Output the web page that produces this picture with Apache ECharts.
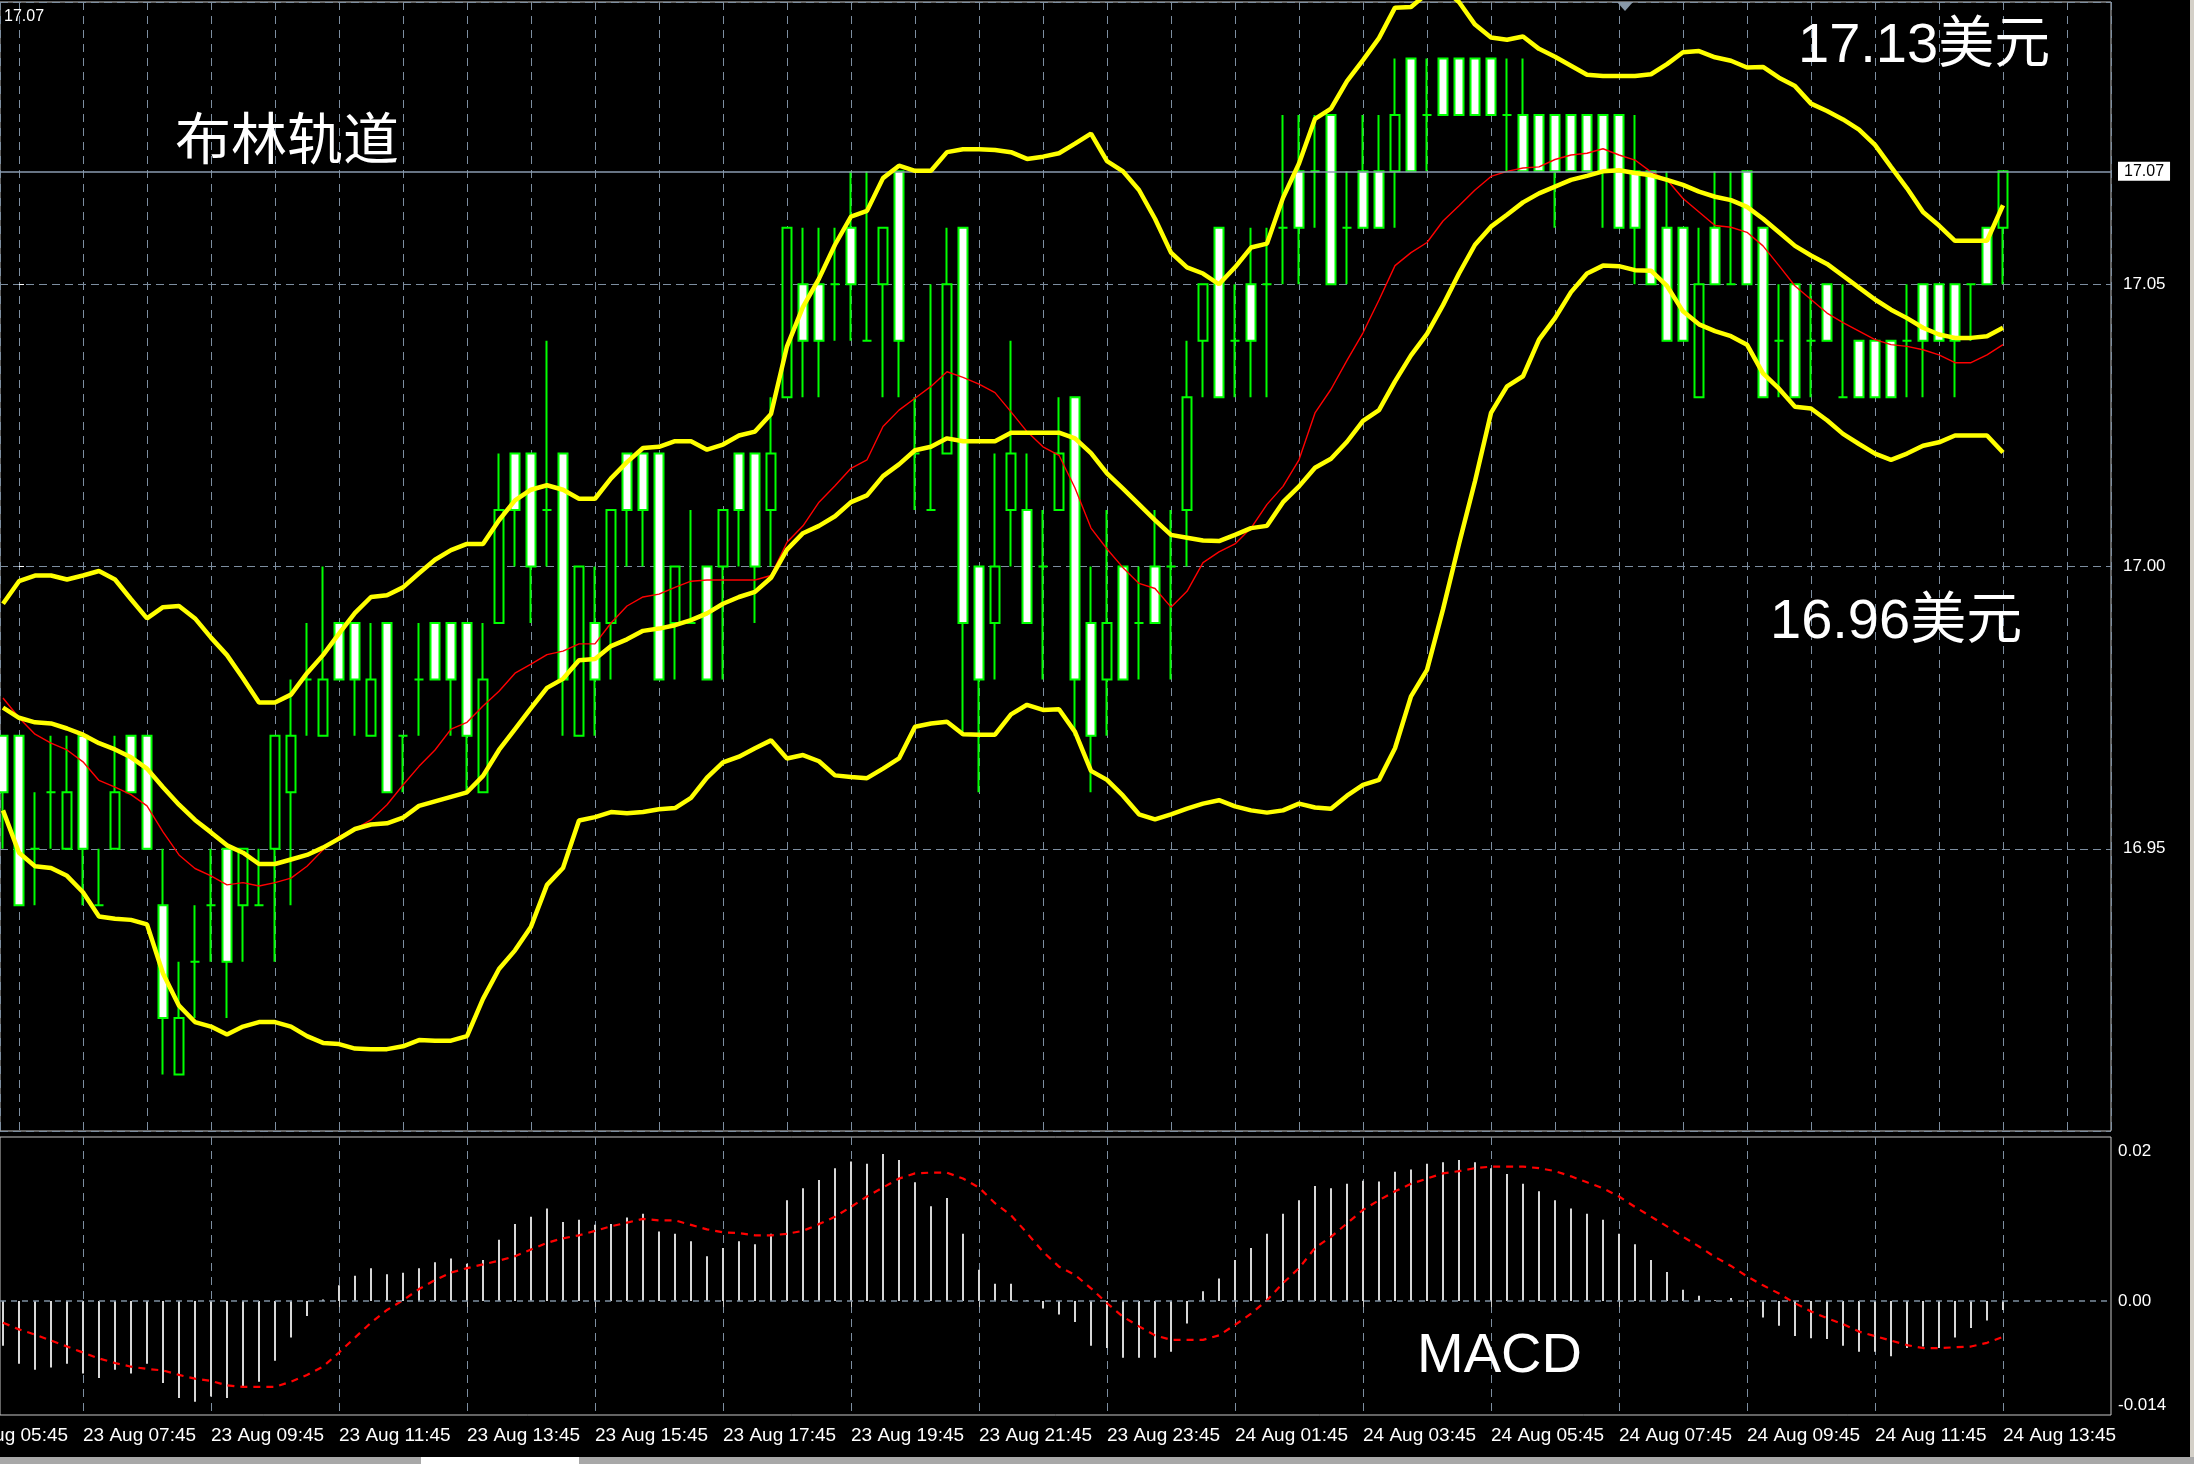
<!DOCTYPE html>
<html><head><meta charset="utf-8">
<script src="https://cdn.jsdelivr.net/npm/echarts/dist/echarts.min.js"></script>
<style>html,body{margin:0;padding:0;background:#000;overflow:hidden}#chart{width:2194px;height:1464px}</style>
</head><body><div id="chart"></div>
<script>
// 15-minute bars, 23 Aug 06:30 ... 24 Aug 13:45
const opens = [16.97,16.97,16.95,16.96,16.95,16.97,16.94,16.95,16.97,16.97,
16.94,16.91,16.93,16.94,16.95,16.94,16.94,16.95,16.96,16.98,
16.97,16.99,16.99,16.97,16.99,16.97,16.98,16.99,16.99,16.99,
16.96,16.99,17.02,17.02,17.01,17.02,16.97,16.99,16.99,17.02,
17.02,17.02,16.99,16.99,17.00,17.00,17.02,17.02,17.01,17.03,
17.05,17.05,17.05,17.06,17.04,17.05,17.07,17.02,17.01,17.02,
17.06,17.00,16.99,17.01,17.01,17.00,17.01,17.03,16.99,16.98,
17.00,16.99,17.00,17.00,17.01,17.04,17.06,17.04,17.05,17.05,
17.06,17.07,17.07,17.08,17.06,17.07,17.07,17.07,17.09,17.08,
17.09,17.09,17.09,17.09,17.08,17.08,17.08,17.08,17.08,17.08,
17.08,17.08,17.07,17.07,17.06,17.06,17.03,17.06,17.05,17.07,
17.06,17.04,17.05,17.04,17.05,17.03,17.04,17.04,17.04,17.04,
17.05,17.05,17.05,17.05,17.06,17.06];
const closes = [16.96,16.94,16.95,16.96,16.96,16.95,16.94,16.96,16.96,16.95,
16.92,16.92,16.93,16.94,16.93,16.95,16.94,16.97,16.97,16.98,
16.98,16.98,16.98,16.98,16.96,16.97,16.98,16.98,16.98,16.97,
16.98,17.01,17.01,17.00,17.01,16.98,17.00,16.98,17.01,17.01,
17.01,16.98,17.00,16.99,16.98,17.01,17.01,17.00,17.02,17.06,
17.04,17.04,17.05,17.05,17.04,17.06,17.04,17.02,17.01,17.05,
16.99,16.98,17.00,17.02,16.99,17.00,17.02,16.98,16.97,16.99,
16.98,16.99,16.99,17.00,17.03,17.05,17.03,17.04,17.04,17.05,
17.06,17.06,17.07,17.05,17.06,17.06,17.06,17.08,17.07,17.08,
17.08,17.08,17.08,17.08,17.08,17.07,17.07,17.07,17.07,17.07,
17.07,17.06,17.06,17.05,17.04,17.04,17.05,17.05,17.05,17.05,
17.03,17.04,17.03,17.04,17.04,17.03,17.03,17.03,17.03,17.04,
17.04,17.04,17.04,17.05,17.05,17.07];
const lows = [16.95,16.94,16.94,16.95,16.95,16.94,16.94,16.95,16.96,16.95,
16.91,16.91,16.92,16.93,16.92,16.93,16.94,16.93,16.94,16.97,
16.97,16.98,16.97,16.97,16.96,16.96,16.97,16.98,16.97,16.96,
16.96,16.99,17.00,16.99,17.00,16.97,16.97,16.97,16.98,17.00,
17.00,16.98,16.98,16.99,16.98,16.98,17.00,16.99,17.00,17.03,
17.03,17.03,17.04,17.04,17.04,17.03,17.03,17.01,17.01,17.02,
16.97,16.96,16.98,17.00,16.99,16.98,17.01,16.97,16.96,16.97,
16.98,16.98,16.99,16.98,17.00,17.03,17.03,17.03,17.03,17.03,
17.05,17.05,17.06,17.05,17.05,17.06,17.06,17.06,17.07,17.07,
17.08,17.08,17.08,17.08,17.07,17.07,17.07,17.06,17.07,17.07,
17.06,17.06,17.05,17.05,17.04,17.04,17.03,17.05,17.05,17.05,
17.03,17.03,17.03,17.03,17.04,17.03,17.03,17.03,17.03,17.03,
17.03,17.04,17.03,17.04,17.05,17.05];
const highs = [16.97,16.97,16.96,16.97,16.97,16.97,16.95,16.97,16.97,16.97,
16.95,16.93,16.94,16.95,16.95,16.95,16.95,16.97,16.98,16.99,
17.00,16.99,16.99,16.99,16.99,16.97,16.99,16.99,16.99,16.99,
16.99,17.02,17.02,17.02,17.04,17.02,17.00,17.00,17.01,17.02,
17.02,17.02,17.00,17.01,17.00,17.01,17.02,17.02,17.03,17.06,
17.06,17.06,17.06,17.07,17.07,17.06,17.07,17.03,17.05,17.06,
17.06,17.00,17.02,17.04,17.02,17.01,17.03,17.03,17.00,17.01,
17.00,17.00,17.01,17.01,17.04,17.05,17.06,17.05,17.06,17.06,
17.08,17.08,17.08,17.08,17.07,17.08,17.08,17.09,17.09,17.09,
17.09,17.09,17.09,17.09,17.09,17.09,17.08,17.08,17.08,17.08,
17.08,17.08,17.08,17.07,17.07,17.06,17.06,17.07,17.07,17.07,
17.06,17.05,17.05,17.05,17.05,17.05,17.04,17.04,17.04,17.05,
17.05,17.05,17.05,17.05,17.06,17.07];

const bbUpper = [16.9934,16.9974,16.9984,16.9984,16.9977,16.9984,16.9992,16.9977,16.9942,16.9908,
16.9928,16.9930,16.9908,16.9874,16.9843,16.9802,16.9759,16.9759,16.9773,16.9811,
16.9843,16.9881,16.9918,16.9946,16.9949,16.9963,16.9988,17.0012,17.0029,17.0040,
17.0040,17.0082,17.0117,17.0136,17.0144,17.0136,17.0120,17.0120,17.0156,17.0185,
17.0210,17.0212,17.0222,17.0222,17.0207,17.0216,17.0232,17.0239,17.0270,17.0390,
17.0460,17.0510,17.0570,17.0620,17.0630,17.0688,17.0710,17.0701,17.0701,17.0734,
17.0739,17.0739,17.0738,17.0734,17.0722,17.0726,17.0732,17.0749,17.0767,17.0718,
17.0700,17.0667,17.0616,17.0556,17.0530,17.0519,17.0500,17.0530,17.0565,17.0572,
17.0653,17.0714,17.0793,17.0811,17.0860,17.0897,17.0936,17.0990,17.0991,17.1015,
17.1025,17.1000,17.0960,17.0937,17.0933,17.0939,17.0917,17.0903,17.0887,17.0871,
17.0869,17.0869,17.0869,17.0872,17.0890,17.0911,17.0913,17.0902,17.0896,17.0884,
17.0885,17.0866,17.0851,17.0820,17.0807,17.0792,17.0774,17.0747,17.0708,17.0670,
17.0628,17.0604,17.0577,17.0577,17.0577,17.0640];
const bbMiddle = [16.9750,16.9732,16.9724,16.9722,16.9713,16.9702,16.9687,16.9676,16.9662,16.9642,
16.9609,16.9578,16.9551,16.9529,16.9506,16.9493,16.9473,16.9473,16.9481,16.9489,
16.9502,16.9518,16.9535,16.9543,16.9545,16.9555,16.9576,16.9584,16.9592,16.9600,
16.9629,16.9675,16.9712,16.9749,16.9785,16.9801,16.9834,16.9836,16.9859,16.9871,
16.9886,16.9890,16.9896,16.9905,16.9917,16.9934,16.9946,16.9955,16.9980,17.0030,
17.0059,17.0072,17.0089,17.0114,17.0126,17.0160,17.0181,17.0206,17.0212,17.0227,
17.0222,17.0222,17.0222,17.0237,17.0237,17.0237,17.0237,17.0227,17.0201,17.0165,
17.0138,17.0110,17.0082,17.0056,17.0051,17.0046,17.0045,17.0056,17.0068,17.0072,
17.0114,17.0142,17.0175,17.0191,17.0221,17.0258,17.0277,17.0328,17.0374,17.0412,
17.0463,17.0519,17.0570,17.0602,17.0623,17.0645,17.0661,17.0673,17.0685,17.0692,
17.0700,17.0702,17.0697,17.0693,17.0685,17.0676,17.0664,17.0655,17.0649,17.0637,
17.0616,17.0592,17.0568,17.0551,17.0536,17.0515,17.0494,17.0473,17.0455,17.0440,
17.0423,17.0411,17.0405,17.0405,17.0408,17.0423];
const bbLower = [16.9568,16.9493,16.9469,16.9466,16.9452,16.9423,16.9380,16.9376,16.9374,16.9366,
16.9279,16.9222,16.9193,16.9185,16.9171,16.9185,16.9193,16.9193,16.9185,16.9168,
16.9156,16.9154,16.9146,16.9145,16.9145,16.9150,16.9161,16.9160,16.9160,16.9168,
16.9234,16.9287,16.9320,16.9362,16.9436,16.9466,16.9550,16.9556,16.9565,16.9563,
16.9565,16.9570,16.9572,16.9590,16.9626,16.9653,16.9663,16.9678,16.9692,16.9660,
16.9666,16.9655,16.9630,16.9627,16.9625,16.9642,16.9660,16.9716,16.9722,16.9725,
16.9703,16.9702,16.9702,16.9738,16.9755,16.9746,16.9747,16.9707,16.9638,16.9622,
16.9594,16.9561,16.9552,16.9561,16.9571,16.9580,16.9586,16.9575,16.9568,16.9564,
16.9568,16.9580,16.9573,16.9571,16.9594,16.9613,16.9622,16.9678,16.9770,16.9817,
16.9924,17.0040,17.0151,17.0272,17.0319,17.0337,17.0402,17.0440,17.0486,17.0519,
17.0533,17.0532,17.0525,17.0524,17.0497,17.0452,17.0429,17.0417,17.0408,17.0393,
17.0342,17.0315,17.0283,17.0280,17.0259,17.0235,17.0217,17.0200,17.0189,17.0200,
17.0214,17.0220,17.0232,17.0232,17.0232,17.0202];
const maRed = [16.9767,16.9732,16.9703,16.9687,16.9675,16.9654,16.9621,16.9609,16.9596,16.9576,
16.9530,16.9489,16.9465,16.9452,16.9436,16.9440,16.9434,16.9440,16.9448,16.9469,
16.9498,16.9522,16.9535,16.9551,16.9578,16.9613,16.9646,16.9675,16.9712,16.9724,
16.9753,16.9779,16.9811,16.9827,16.9844,16.9850,16.9863,16.9863,16.9900,16.9930,
16.9946,16.9951,16.9963,16.9974,16.9976,16.9976,16.9976,16.9976,16.9984,17.0043,
17.0072,17.0114,17.0143,17.0174,17.0189,17.0248,17.0277,17.0298,17.0319,17.0345,
17.0335,17.0323,17.0308,17.0274,17.0239,17.0212,17.0197,17.0139,17.0068,17.0031,
16.9998,16.9970,16.9961,16.9928,16.9956,17.0007,17.0026,17.0040,17.0068,17.0110,
17.0142,17.0189,17.0272,17.0314,17.0365,17.0414,17.0472,17.0533,17.0556,17.0574,
17.0612,17.0639,17.0667,17.0691,17.0700,17.0706,17.0708,17.0721,17.0729,17.0732,
17.0740,17.0729,17.0720,17.0699,17.0685,17.0652,17.0628,17.0604,17.0601,17.0592,
17.0568,17.0533,17.0497,17.0473,17.0449,17.0432,17.0417,17.0402,17.0393,17.0390,
17.0384,17.0375,17.0361,17.0361,17.0375,17.0393];
const macdHist = [-0.0060,-0.0084,-0.0092,-0.0089,-0.0084,-0.0097,-0.0103,-0.0092,-0.0097,-0.0084,
-0.0110,-0.0130,-0.0135,-0.0128,-0.0130,-0.0115,-0.0108,-0.0080,-0.0049,-0.0020,
0.0002,0.0021,0.0034,0.0044,0.0036,0.0038,0.0044,0.0052,0.0057,0.0050,
0.0055,0.0082,0.0103,0.0113,0.0124,0.0106,0.0109,0.0102,0.0103,0.0112,
0.0117,0.0093,0.0090,0.0080,0.0060,0.0071,0.0080,0.0076,0.0090,0.0135,
0.0151,0.0162,0.0178,0.0187,0.0184,0.0197,0.0189,0.0159,0.0127,0.0138,
0.0090,0.0042,0.0023,0.0023,0.0001,-0.0010,-0.0018,-0.0028,-0.0060,-0.0063,
-0.0076,-0.0076,-0.0076,-0.0068,-0.0030,0.0013,0.0030,0.0055,0.0071,0.0090,
0.0117,0.0135,0.0154,0.0151,0.0157,0.0161,0.0160,0.0173,0.0176,0.0184,
0.0186,0.0189,0.0186,0.0178,0.0170,0.0157,0.0147,0.0135,0.0124,0.0117,
0.0109,0.0090,0.0076,0.0055,0.0039,0.0015,0.0007,0.0001,0.0004,0.0000,
-0.0022,-0.0033,-0.0047,-0.0050,-0.0051,-0.0060,-0.0068,-0.0068,-0.0074,-0.0063,
-0.0061,-0.0063,-0.0049,-0.0036,-0.0026,-0.0012];
const macdSignal = [-0.0029,-0.0038,-0.0045,-0.0053,-0.0061,-0.0069,-0.0077,-0.0083,-0.0088,-0.0091,
-0.0093,-0.0099,-0.0104,-0.0107,-0.0113,-0.0115,-0.0115,-0.0115,-0.0108,-0.0099,
-0.0088,-0.0069,-0.0049,-0.0029,-0.0012,0.0001,0.0016,0.0028,0.0038,0.0044,
0.0049,0.0054,0.0060,0.0069,0.0078,0.0084,0.0088,0.0094,0.0100,0.0105,
0.0110,0.0108,0.0108,0.0102,0.0096,0.0092,0.0091,0.0088,0.0088,0.0090,
0.0094,0.0103,0.0113,0.0126,0.0140,0.0152,0.0164,0.0171,0.0172,0.0172,
0.0164,0.0152,0.0131,0.0115,0.0091,0.0066,0.0046,0.0035,0.0017,-0.0003,
-0.0021,-0.0034,-0.0046,-0.0052,-0.0052,-0.0052,-0.0046,-0.0032,-0.0017,0.0001,
0.0024,0.0044,0.0071,0.0086,0.0104,0.0122,0.0135,0.0147,0.0157,0.0164,
0.0171,0.0174,0.0178,0.0180,0.0180,0.0180,0.0178,0.0174,0.0167,0.0159,
0.0151,0.0140,0.0126,0.0113,0.0100,0.0086,0.0073,0.0059,0.0047,0.0033,
0.0021,0.0010,-0.0003,-0.0014,-0.0023,-0.0031,-0.0041,-0.0047,-0.0053,-0.0059,
-0.0063,-0.0063,-0.0062,-0.0061,-0.0056,-0.0048];

const timeTickLabels = ['23 Aug 05:45','23 Aug 07:45','23 Aug 09:45','23 Aug 11:45','23 Aug 13:45',
'23 Aug 15:45','23 Aug 17:45','23 Aug 19:45','23 Aug 21:45','23 Aug 23:45','24 Aug 01:45',
'24 Aug 03:45','24 Aug 05:45','24 Aug 07:45','24 Aug 09:45','24 Aug 11:45','24 Aug 13:45'];
const priceLine = 17.07;
const macdTickValues = [0.02, 0, -0.014];
const macdTickLabels = ['0.02', '0.00', '-0.014'];

// x position of bar i: bars at hh:45 land on multiples of 4 (first bar is 06:30)
const xOf = i => i - 1;
const timeTickX = timeTickLabels.map((_, k) => -4 + 8 * k);
// visible window: a little of bar 0 on the left, ~6.75 empty bar slots on the right
const XMIN = xOf(-0.1875), XMAX = xOf(131.75);

const FONT = '"Liberation Sans", Arial, sans-serif';
const GRIDC = '#7d8ea0';

const candleData = opens.map((o, i) => [xOf(i), o, closes[i], lows[i], highs[i]]);
const ser = arr => arr.map((v, i) => [xOf(i), v]);
const timeLabel = v => timeTickLabels[Math.round((v + 4) / 8)] || '';

const chart = echarts.init(document.getElementById('chart'), null, {renderer: 'canvas'});
const lineBase = {type: 'line', xAxisIndex: 0, yAxisIndex: 0, symbol: 'none', showSymbol: false, silent: true, clip: true};
const xAxisBase = {type: 'value', min: XMIN, max: XMAX, minInterval: 4, maxInterval: 4, axisLine: {show: false},
  splitLine: {show: true, lineStyle: {color: GRIDC, type: [8, 6], width: 1}}};
const BBW = 4.5;

chart.setOption({
  backgroundColor: '#000',
  animation: false,
  grid: [
    {left: 0, top: 2, width: 2111, height: 1129, show: true, borderColor: '#c8c8c8', borderWidth: 1},
    {left: 0, top: 1137, width: 2111, height: 278, show: true, borderColor: '#c8c8c8', borderWidth: 1}
  ],
  xAxis: [
    Object.assign({}, xAxisBase, {gridIndex: 0, axisTick: {show: false}, axisLabel: {show: false}}),
    Object.assign({}, xAxisBase, {gridIndex: 1,
      axisTick: {show: true, customValues: timeTickX, length: 6, lineStyle: {color: '#c8c8c8'}},
      axisLabel: {show: true, customValues: timeTickX, showMinLabel: true, showMaxLabel: true,
        align: 'left', color: '#fff', fontSize: 19, fontFamily: FONT, margin: 11, formatter: timeLabel}})
  ],
  yAxis: [
    {type: 'value', gridIndex: 0, position: 'right', min: 16.90, max: 17.10, interval: 0.05,
     axisLine: {show: false}, axisTick: {show: true, length: 5, lineStyle: {color: '#fff'}},
     axisLabel: {color: '#fff', fontSize: 17, fontFamily: FONT, margin: 12, showMinLabel: false, showMaxLabel: false,
       formatter: v => v.toFixed(2)},
     splitLine: {show: true, lineStyle: {color: GRIDC, type: [8, 5], width: 1}}},
    {type: 'value', gridIndex: 1, position: 'right', min: -0.01527, max: 0.02197,
     axisLine: {show: false}, axisTick: {show: false},
     axisLabel: {customValues: macdTickValues, color: '#fff', fontSize: 17, fontFamily: FONT, margin: 7,
       showMinLabel: true, showMaxLabel: true,
       formatter: v => { let b = 0; macdTickValues.forEach((t, k) => { if (Math.abs(t - v) < Math.abs(macdTickValues[b] - v)) b = k; }); return macdTickLabels[b]; }},
     splitLine: {show: false}}
  ],
  series: [
    {type: 'candlestick', xAxisIndex: 0, yAxisIndex: 0, data: candleData, encode: {x: 0, y: [1, 2, 3, 4]},
     barWidth: 9, silent: true, z: 3,
     itemStyle: {color: '#000', color0: '#fff', borderColor: '#00ff00', borderColor0: '#00ff00', borderColorDoji: '#00ff00', borderWidth: 2}},
    Object.assign({}, lineBase, {name: 'ma', data: ser(maRed), z: 4, lineStyle: {color: '#ff0000', width: 1.4}}),
    Object.assign({}, lineBase, {name: 'upper', data: ser(bbUpper), z: 5, lineStyle: {color: '#ffff00', width: BBW},
      markLine: {silent: true, symbol: 'none', animation: false,
        lineStyle: {color: '#8a9bb0', type: 'solid', width: 1.5},
        label: {show: true, position: 'end', distance: 7, formatter: priceLine.toFixed(2), color: '#000',
          backgroundColor: '#fff', padding: [2, 6, 1, 6], fontSize: 16, fontFamily: FONT},
        data: [{yAxis: priceLine}]}}),
    Object.assign({}, lineBase, {name: 'middle', data: ser(bbMiddle), z: 5, lineStyle: {color: '#ffff00', width: BBW}}),
    Object.assign({}, lineBase, {name: 'lower', data: ser(bbLower), z: 5, lineStyle: {color: '#ffff00', width: BBW}}),
    {type: 'bar', xAxisIndex: 1, yAxisIndex: 1, data: ser(macdHist), barWidth: 2, silent: true,
     itemStyle: {color: '#d8d8d8'},
     markLine: {silent: true, symbol: 'none', label: {show: false},
       lineStyle: {color: GRIDC, type: [6, 5], width: 1.5}, data: [{yAxis: 0}]}},
    {type: 'line', xAxisIndex: 1, yAxisIndex: 1, data: ser(macdSignal), symbol: 'none', silent: true, z: 4,
     lineStyle: {color: '#ff0000', width: 2.2, type: [7, 6]}}
  ],
  graphic: [
    {type: 'text', x: 4, y: 17, z: 100, style: {text: '17.07', fill: '#fff', font: '16px ' + FONT, verticalAlign: 'middle'}},
    {type: 'text', x: 175, y: 138, z: 100, style: {text: '布林轨道', fill: '#fff', font: '56px "Noto Sans CJK SC", sans-serif', verticalAlign: 'middle'}},
    {type: 'text', x: 1798, y: 47, z: 100, style: {text: '17.13美元', fill: '#fff', font: '56px "Liberation Sans", "Noto Sans CJK SC", sans-serif', verticalAlign: 'middle'}},
    {type: 'text', x: 1770, y: 623, z: 100, style: {text: '16.96美元', fill: '#fff', font: '56px "Liberation Sans", "Noto Sans CJK SC", sans-serif', verticalAlign: 'middle'}},
    {type: 'text', x: 1417, y: 1357, z: 100, style: {text: 'MACD', fill: '#fff', font: '56px "Liberation Sans", sans-serif', verticalAlign: 'middle'}},
    {type: 'polygon', z: 100, shape: {points: [[1617, 2], [1633, 2], [1625, 11]]}, style: {fill: '#8898a8'}},
    {type: 'rect', z: 100, shape: {x: 0, y: 1457, width: 2194, height: 7}, style: {fill: '#a8a8a8'}},
    {type: 'rect', z: 101, shape: {x: 421, y: 1457, width: 158, height: 7}, style: {fill: '#ffffff'}},
    {type: 'rect', z: 100, shape: {x: 2190, y: 0, width: 4, height: 1457}, style: {fill: '#d4d0c8'}}
  ]
});

// the first time label sits left of the visible window (only its tail shows), place it with the axis scale
const firstX = chart.convertToPixel({xAxisIndex: 1}, timeTickX[0]);
const axisY = chart.convertToPixel({yAxisIndex: 1}, -0.01527);
chart.setOption({graphic: [{id: 'firstTimeLabel', type: 'text', x: firstX, y: axisY + 11, z: 100,
  style: {text: timeTickLabels[0], fill: '#fff', font: '19px ' + FONT, verticalAlign: 'top'}}]});
</script></body></html>
